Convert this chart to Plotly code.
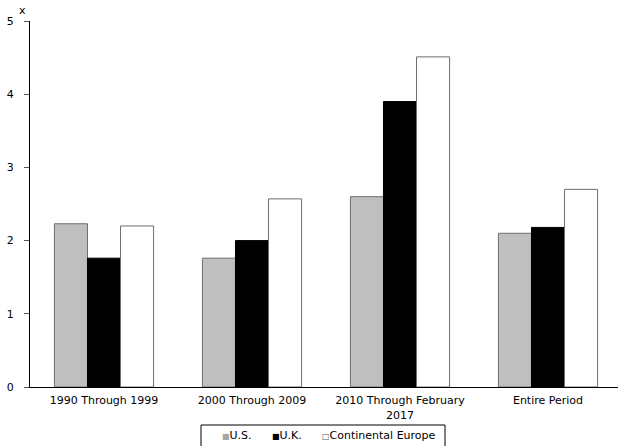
import plotly.graph_objects as go

# Period categories (x axis) and multiples for each region
periods = ["1990 Through 1999", "2000 Through 2009", "2010 Through February<br>2017", "Entire Period"]
series_names = ["U.S.", "U.K.", "Continental Europe"]
us_values = [2.23, 1.76, 2.60, 2.10]
uk_values = [1.76, 2.00, 3.90, 2.18]
europe_values = [2.20, 2.57, 4.51, 2.70]
y_ticks = [0, 1, 2, 3, 4, 5]

FONT = "DejaVu Sans, Verdana, sans-serif"
W, H = 618, 446
ML, MR, MT, MB = 30, 0, 21, 59
PW, PH = W - ML - MR, H - MT - MB

fills = ["#bfbfbf", "#000000", "#ffffff"]
outlines = ["#6e6e6e", "#000000", "#6e6e6e"]
swatch_colors = ["#a8a8a8", "#000000", "#555555"]
swatch_glyphs = ["■", "■", "□"]

fig = go.Figure()
for name, vals, fc, lc in zip(series_names, [us_values, uk_values, europe_values], fills, outlines):
    fig.add_trace(go.Bar(
        x=periods, y=vals, name=name,
        marker=dict(color=fc, line=dict(color=lc, width=1)),
        showlegend=False,
    ))


def px_x(px):
    return (px - ML) / PW


def px_y(py):
    return (H - MB - py) / PH


# Boxed key row beneath the chart
fig.add_shape(
    type="rect", xref="paper", yref="paper",
    x0=px_x(201), x1=px_x(445), y0=px_y(448), y1=px_y(425),
    line=dict(color="#000", width=1), fillcolor="#fff", layer="above",
)
for i, (name, col, glyph) in enumerate(zip(series_names, swatch_colors, swatch_glyphs)):
    fig.add_annotation(
        text=f"<span style='color:{col};font-size:8px'>{glyph}</span>{name}",
        xref="paper", yref="paper", x=px_x(220 + 50 * i), y=px_y(435.5),
        xanchor="left", yanchor="middle", showarrow=False,
        font=dict(family=FONT, size=11, color="#000"),
    )

# Unit label above the value axis
fig.add_annotation(
    text="x", xref="paper", yref="paper", x=px_x(22), y=px_y(11),
    xanchor="center", yanchor="middle", showarrow=False,
    font=dict(family=FONT, size=11, color="#000"),
)

fig.update_layout(
    width=W, height=H,
    margin=dict(l=ML, r=MR, t=MT, b=MB),
    paper_bgcolor="#fff", plot_bgcolor="#fff",
    barmode="group", bargap=0.33, bargroupgap=0,
    font=dict(family=FONT, size=11, color="#000"),
    xaxis=dict(
        range=[-0.5, 3.473], showline=True, linecolor="#000", linewidth=1,
        ticks="", showgrid=False, zeroline=False, tickfont=dict(size=11),
        ticklabelstandoff=3,
    ),
    yaxis=dict(
        range=[0, 5], tickvals=y_ticks, showline=True, linecolor="#000", linewidth=1,
        ticks="outside", ticklen=5, tickcolor="#555", showgrid=False, zeroline=False,
        ticklabelstandoff=8, tickfont=dict(size=11),
    ),
)

fig.write_html("out.html")
